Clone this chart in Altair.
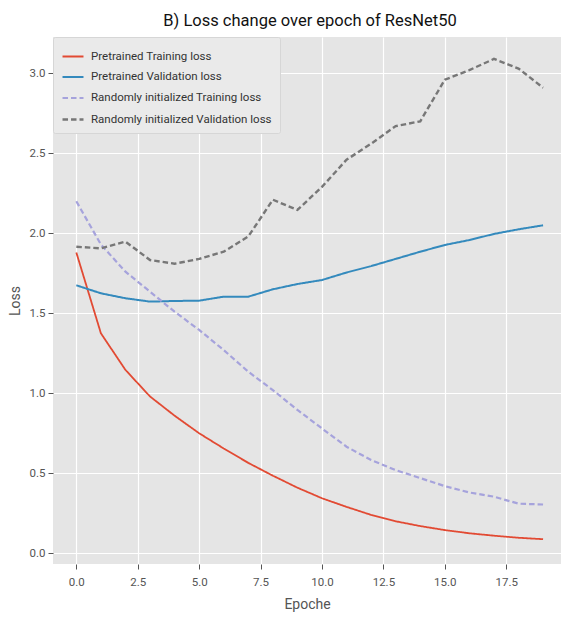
import altair as alt
import pandas as pd

# Per-epoch loss curves of ResNet50
epochs = list(range(20))

pretrained_train = [1.88, 1.375, 1.146, 0.98, 0.86, 0.75, 0.655, 0.565, 0.485, 0.41,
                    0.344, 0.29, 0.24, 0.20, 0.17, 0.145, 0.125, 0.11, 0.097, 0.088]
pretrained_val = [1.675, 1.625, 1.594, 1.573, 1.577, 1.579, 1.604, 1.604, 1.65, 1.683,
                  1.708, 1.755, 1.795, 1.84, 1.885, 1.927, 1.958, 1.996, 2.025, 2.05]
random_train = [2.20, 1.93, 1.76, 1.635, 1.51, 1.396, 1.27, 1.135, 1.02, 0.896,
                0.78, 0.666, 0.583, 0.52, 0.47, 0.42, 0.38, 0.354, 0.31, 0.305]
random_val = [1.916, 1.906, 1.948, 1.833, 1.81, 1.84, 1.885, 1.98, 2.21, 2.146,
              2.29, 2.46, 2.56, 2.67, 2.70, 2.96, 3.02, 3.09, 3.03, 2.91]

series_names = [
    "Pretrained Training loss",
    "Pretrained Validation loss",
    "Randomly initialized Training loss",
    "Randomly initialized Validation loss",
]
series_values = [pretrained_train, pretrained_val, random_train, random_val]
series_colors = ["#E24A33", "#348ABD", "#A6A3DC", "#777777"]
series_dashes = [[1, 0], [1, 0], [5.5, 3], [5.5, 3]]
series_widths = [1.8, 2.4, 2.0, 2.0]

x_ticks = [0, 2.5, 5, 7.5, 10, 12.5, 15, 17.5]
y_ticks = [0, 0.5, 1.0, 1.5, 2.0, 2.5, 3.0]

rows = []
for name, vals in zip(series_names, series_values):
    for e, v in zip(epochs, vals):
        rows.append({"series": name, "epoch": e, "loss": v})
df = pd.DataFrame(rows)

FONT = "Roboto, Liberation Sans, sans-serif"
PLOT_W, PLOT_H = 508, 527

chart = (
    alt.Chart(df)
    .mark_line(clip=True)
    .encode(
        x=alt.X(
            "epoch:Q",
            title="Epoche",
            scale=alt.Scale(domain=[-0.95, 19.73], nice=False, zero=False),
            axis=alt.Axis(values=x_ticks, format=".1f"),
        ),
        y=alt.Y(
            "loss:Q",
            title="Loss",
            scale=alt.Scale(domain=[-0.067, 3.227], nice=False, zero=False),
            axis=alt.Axis(values=y_ticks, format=".1f"),
        ),
        color=alt.Color(
            "series:N",
            scale=alt.Scale(domain=series_names, range=series_colors),
            sort=series_names,
            legend=alt.Legend(
                title=None,
                orient="none",
                legendX=0,
                legendY=0,
                symbolType="stroke",
                symbolSize=440,
                symbolStrokeWidth=2,
                labelFont=FONT,
                labelFontSize=11.5,
                labelColor="#333333",
                labelOffset=6,
                padding=8,
                rowPadding=3.5,
                fillColor="#EAEAEA",
                strokeColor="#D6D6D6",
                cornerRadius=2,
                labelLimit=300,
            ),
        ),
        strokeDash=alt.StrokeDash(
            "series:N",
            scale=alt.Scale(domain=series_names, range=series_dashes),
            sort=series_names,
            legend=alt.Legend(title=None, orient="none", legendX=0, legendY=0),
        ),
        strokeWidth=alt.StrokeWidth(
            "series:N",
            scale=alt.Scale(domain=series_names, range=series_widths),
            legend=None,
        ),
    )
    .properties(
        width=PLOT_W,
        height=PLOT_H,
        autosize=alt.AutoSizeParams(type="none"),
        padding={"left": 53, "top": 37, "right": 0, "bottom": 53},
        title=alt.Title(
            "B) Loss change over epoch of ResNet50",
            font=FONT,
            fontSize=16.5,
            fontWeight="normal",
            color="#111111",
            offset=7,
            dx=3,
        ),
    )
    .configure_view(fill="#E5E5E5", stroke=None)
    .configure_axis(
        grid=True,
        gridColor="#FFFFFF",
        gridWidth=1.2,
        domain=False,
        tickColor="#555555",
        tickSize=5,
        tickWidth=1,
        labelFont=FONT,
        labelFontSize=11.5,
        labelColor="#555555",
        titleFont=FONT,
        titleFontSize=14,
        titleFontWeight="normal",
        titleColor="#555555",
    )
    .configure_axisX(labelPadding=7, titlePadding=10)
    .configure_axisY(labelPadding=3, titlePadding=7)
)

chart.save("out.html", embed_options={"renderer": "svg", "actions": False})
